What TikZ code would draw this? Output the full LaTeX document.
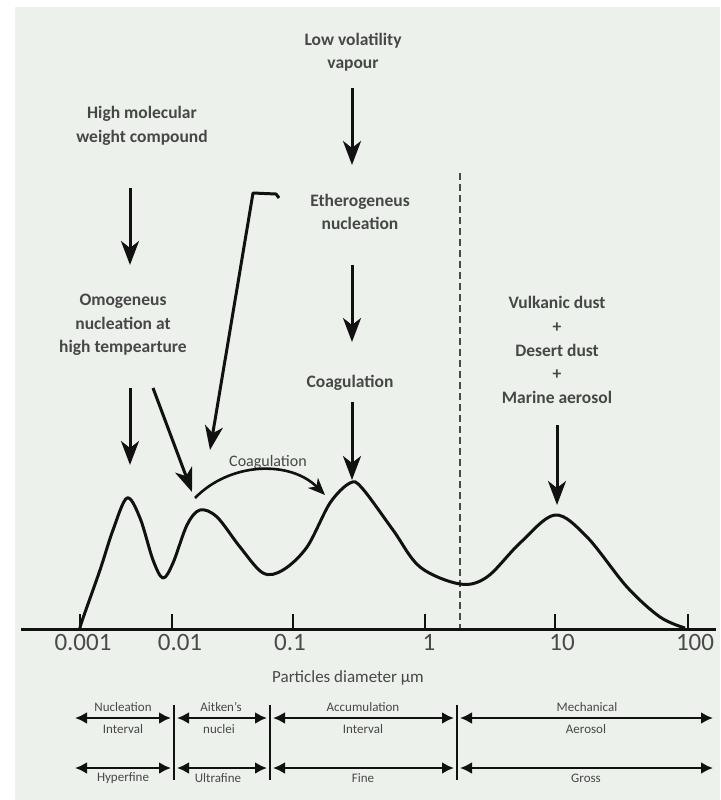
\documentclass[tikz,border=0pt]{standalone}
\usepackage{fontspec}
\setmainfont{Carlito}
\usetikzlibrary{arrows.meta}
\definecolor{bg}{HTML}{EDF1EC}
\definecolor{txt}{HTML}{474747}
\definecolor{num}{HTML}{4A4A4A}
\definecolor{ink}{HTML}{111111}
\begin{document}
\begin{tikzpicture}[x=1pt,y=-1pt,
  lbl/.style={text=txt, font=\fontsize{17.5}{23.5}\selectfont\bfseries, align=center, inner sep=0pt},
  small/.style={text=txt, font=\fontsize{13}{15}\selectfont, inner sep=0pt},
  numlbl/.style={text=num, font=\fontsize{25}{28}\selectfont, inner sep=0pt},
  bigarrow/.style={draw=ink, line width=3pt, -{Stealth[length=24pt,width=18pt,inset=7pt]}},
  arcarrow/.style={draw=ink, line width=2.6pt, -{Stealth[length=17pt,width=14pt,inset=5pt]}},
  dblarrow/.style={draw=ink, line width=2.6pt, {Latex[length=12pt,width=12pt]}-{Latex[length=12pt,width=12pt]}},
  curveline/.style={draw=ink, line width=3pt, line join=round},
  axisline/.style={draw=ink, line width=3pt},
  sepline/.style={draw=ink, line width=2.5pt},
  dashline/.style={draw=num, line width=1.8pt, dash pattern=on 7pt off 4pt}
]
\useasboundingbox (0,0) rectangle (720,800);
\fill[white] (0,0) rectangle (720,800);
\fill[bg] (15,7) rectangle (720,800);

% ---- labels ----
\node[lbl] (hmw) at (142,126) {High molecular\\weight compound};
\node[lbl] (omo) at (123,325) {Omogeneus\\nucleation at\\high tempearture};
\node[lbl] (lvv) at (353,52) {Low volatility\\vapour};
\node[lbl] (eth) at (360,212) {Etherogeneus\\nucleation};
\node[lbl] (coag) at (350,383) {Coagulation};
\node[lbl, font=\fontsize{17.5}{23.8}\selectfont\bfseries] (vulk) at (557,350) {Vulkanic dust\\+\\Desert dust\\+\\Marine aerosol};
\node[text=txt, font=\fontsize{16}{18}\selectfont, inner sep=0pt] (coaglbl) at (268,462) {Coagulation};

% ---- arrow coordinates ----
\coordinate (hmwS) at (130,188);  \coordinate (hmwE) at (130,265);
\coordinate (lvvS) at (352,88);   \coordinate (lvvE) at (352,165);
\coordinate (ethS) at (352,265);  \coordinate (ethE) at (352,342);
\coordinate (coS)  at (352,402);  \coordinate (coE)  at (352,480);
\coordinate (omS)  at (130,388);  \coordinate (omE)  at (130,465);
\coordinate (odS)  at (153,388);  \coordinate (odE)  at (192,492);
\coordinate (vuS)  at (557,425);  \coordinate (vuE)  at (557,505);
\coordinate (brA)  at (279,198);  \coordinate (brB)  at (276,194);
\coordinate (brC)  at (253,193);  \coordinate (brE)  at (210,450);
\coordinate (caS)  at (195,498);  \coordinate (caE)  at (325,495);

\draw[bigarrow] (hmwS) -- (hmwE);
\draw[bigarrow] (lvvS) -- (lvvE);
\draw[bigarrow] (ethS) -- (ethE);
\draw[bigarrow] (coS) -- (coE);
\draw[bigarrow] (omS) -- (omE);
\draw[bigarrow] (odS) -- (odE);
\draw[bigarrow] (vuS) -- (vuE);
\draw[bigarrow, line join=round] (brA) -- (brB) -- (brC) -- (brE);
\draw[arcarrow] (caS) .. controls (230,462) and (290,460) .. (caE);

% ---- dashed separator ----
\coordinate (dT) at (460,173); \coordinate (dB) at (460,629);
\draw[dashline] (dT) -- (dB);

% ---- distribution curve ----
\draw[curveline] plot[smooth, tension=0.55] coordinates {
 (80,629) (82,621) (100,570) (113,530) (127,498) (140,518) (153,560) (163,578)
 (173,563) (187,525) (200,510) (217,517) (240,547) (263,573) (283,570)
 (307,547) (330,503) (350,483) (362,488) (393,530) (420,567) (460,584)
 (487,577) (520,543) (555,515) (587,537) (627,587) (660,617) (685,628)};

% ---- axis ----
\coordinate (axL) at (21,629); \coordinate (axR) at (716,629);
\draw[axisline] (axL) -- (axR);
\foreach \x in {80,172,293,425,555,688} {
  \draw[axisline, line width=2.6pt] (\x,629) -- (\x,614);
}
\node[numlbl] (n1) at (83,642) {0.001};
\node[numlbl] (n2) at (180,642) {0.01};
\node[numlbl] (n3) at (290,642) {0.1};
\node[numlbl] (n4) at (429,642) {1};
\node[numlbl] (n5) at (562,642) {10};
\node[numlbl] (n6) at (695,642) {100};

\node[text=txt, font=\fontsize{17}{20}\selectfont, inner sep=0pt] (pd) at (348,678) {Particles diameter µm};

% ---- bottom intervals ----
\coordinate (s1T) at (174,705); \coordinate (s1B) at (174,780);
\coordinate (s2T) at (270,705); \coordinate (s2B) at (270,780);
\coordinate (s3T) at (457,705); \coordinate (s3B) at (457,780);
\draw[sepline] (s1T) -- (s1B);
\draw[sepline] (s2T) -- (s2B);
\draw[sepline] (s3T) -- (s3B);

\coordinate (r1a) at (75,718);  \coordinate (r1b) at (171,718);
\coordinate (r1c) at (177,718); \coordinate (r1d) at (267,718);
\coordinate (r1e) at (273,718); \coordinate (r1f) at (454,718);
\coordinate (r1g) at (460,718); \coordinate (r1h) at (713,718);
\coordinate (r2a) at (75,768);  \coordinate (r2b) at (171,768);
\coordinate (r2c) at (177,768); \coordinate (r2d) at (267,768);
\coordinate (r2e) at (273,768); \coordinate (r2f) at (454,768);
\coordinate (r2g) at (460,768); \coordinate (r2h) at (713,768);
\draw[dblarrow] (r1a) -- (r1b);
\draw[dblarrow] (r1c) -- (r1d);
\draw[dblarrow] (r1e) -- (r1f);
\draw[dblarrow] (r1g) -- (r1h);
\draw[dblarrow] (r2a) -- (r2b);
\draw[dblarrow] (r2c) -- (r2d);
\draw[dblarrow] (r2e) -- (r2f);
\draw[dblarrow] (r2g) -- (r2h);

\node[small] (t1a) at (123,707) {Nucleation};
\node[small] (t1b) at (123,729) {Interval};
\node[small] (t2a) at (221,707) {Aitken's};
\node[small] (t2b) at (219,729) {nuclei};
\node[small] (t3a) at (363,707) {Accumulation};
\node[small] (t3b) at (363,729) {Interval};
\node[small] (t4a) at (587,707) {Mechanical};
\node[small] (t4b) at (586,729) {Aerosol};
\node[small] (u1) at (123,778) {Hyperfine};
\node[small] (u2) at (218,778) {Ultrafine};
\node[small] (u3) at (363,778) {Fine};
\node[small] (u4) at (586,778) {Gross};
\end{tikzpicture}
\end{document}
